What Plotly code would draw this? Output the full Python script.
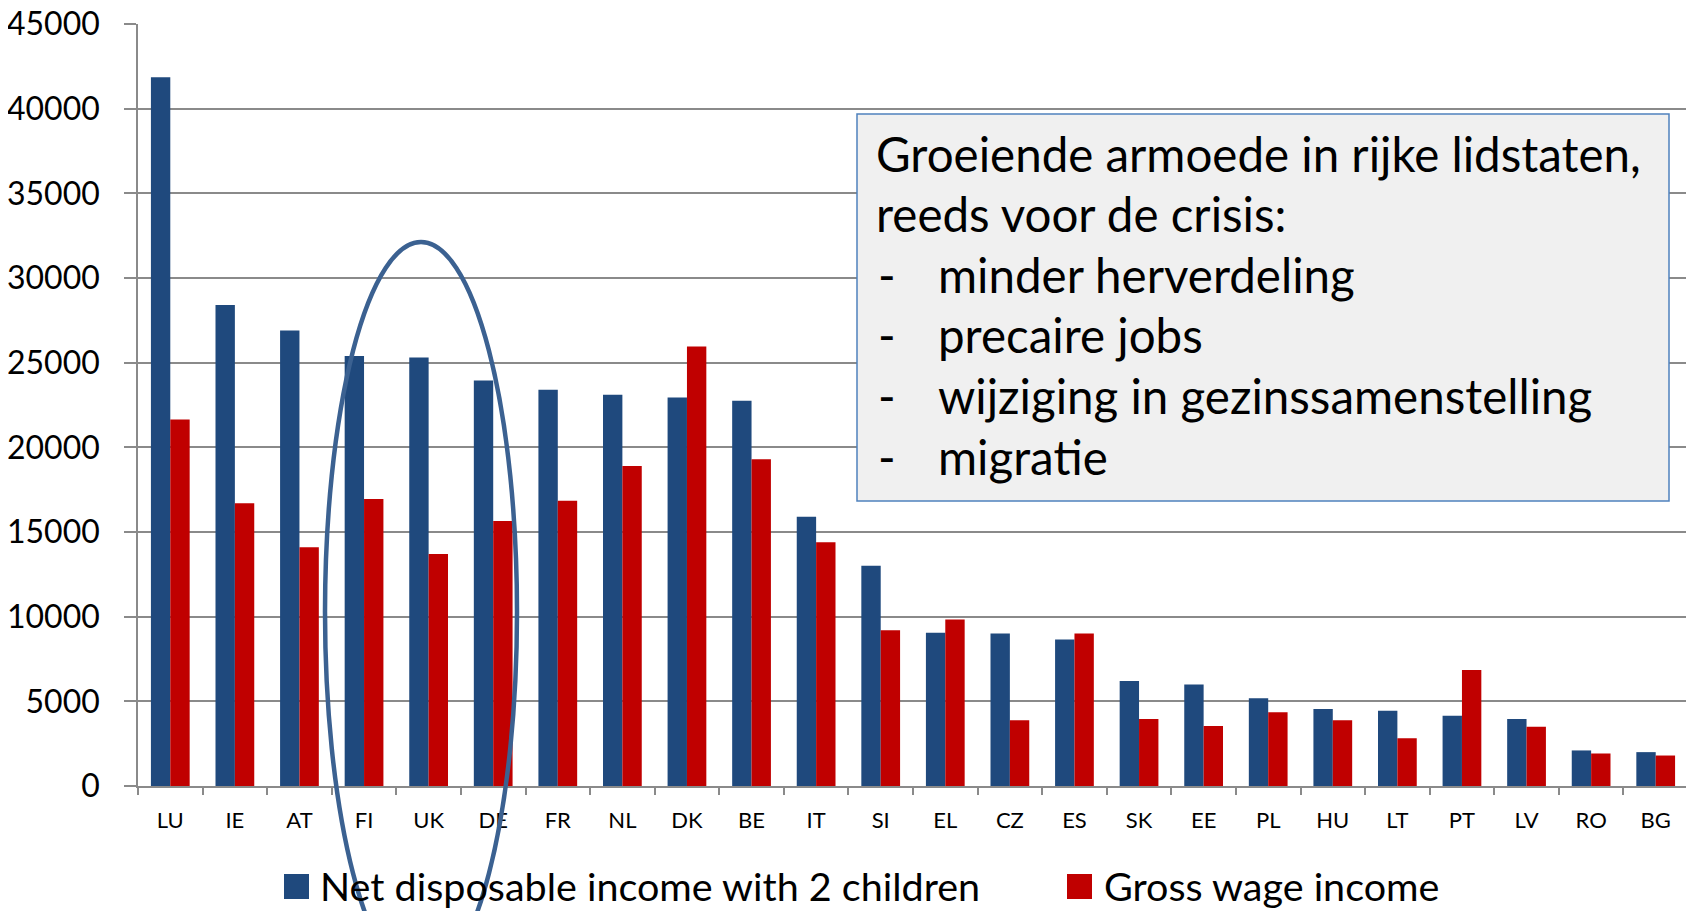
import plotly.graph_objects as go

countries = ["LU", "IE", "AT", "FI", "UK", "DE", "FR", "NL", "DK", "BE", "IT", "SI",
             "EL", "CZ", "ES", "SK", "EE", "PL", "HU", "LT", "PT", "LV", "RO", "BG"]
net_disposable = [41850, 28400, 26900, 25400, 25300, 23950, 23400, 23100, 22950, 22750, 15900, 13000,
                  9050, 9000, 8650, 6200, 6000, 5180, 4550, 4450, 4150, 3950, 2100, 2000]
gross_wage = [21650, 16700, 14100, 16950, 13700, 15650, 16850, 18900, 25950, 19300, 14400, 9200,
              9830, 3880, 9000, 3950, 3550, 4350, 3880, 2820, 6850, 3500, 1920, 1800]
y_ticks = [0, 5000, 10000, 15000, 20000, 25000, 30000, 35000, 40000, 45000]

series_names = ["Net disposable income with 2 children", "Gross wage income"]
box_title = ["Groeiende armoede in rijke lidstaten,", "reeds voor de crisis:"]
box_items = ["minder herverdeling", "precaire jobs", "wijziging in gezinssamenstelling", "migratie"]

BLUE = "#1F497D"
RED = "#C00000"
GRID = "#8A8A8A"
FONT = "Lato, sans-serif"

# page body has an 8px margin; figure is sized to fit the remaining viewport
OFF = 8
W, H = 1694 - OFF, 911 - OFF
L, R, T, B = 130, 6, 16, 125
PW, PH = W - L - R, H - T - B


def fx(p):
    """page x pixel -> paper x"""
    return (p - OFF - L) / PW


def fy(p):
    """page y pixel -> paper y"""
    return (H - B - (p - OFF)) / PH


fig = go.Figure()
fig.add_trace(go.Bar(x=countries, y=net_disposable, name=series_names[0],
                     marker=dict(color=BLUE, line=dict(width=0)), showlegend=False))
fig.add_trace(go.Bar(x=countries, y=gross_wage, name=series_names[1],
                     marker=dict(color=RED, line=dict(width=0)), showlegend=False))

shapes = []
annotations = []

# text box
shapes.append(dict(type="rect", xref="paper", yref="paper",
                   x0=fx(857), x1=fx(1669), y0=fy(501), y1=fy(114),
                   fillcolor="#F0F0F0", line=dict(color="#4F81BD", width=1.5), layer="above"))
TB = 47.5
line_centers = [153, 213, 274, 334, 395, 456]
lines = [("", box_title[0]), ("", box_title[1])] + [("-", t) for t in box_items]
for (dash, txt), yc in zip(lines, line_centers):
    if dash:
        annotations.append(dict(text=dash, xref="paper", yref="paper", x=fx(876), y=fy(yc),
                                xanchor="left", yanchor="middle", showarrow=False,
                                font=dict(family=FONT, size=TB, color="black")))
        annotations.append(dict(text=txt, xref="paper", yref="paper", x=fx(936), y=fy(yc),
                                xanchor="left", yanchor="middle", showarrow=False,
                                font=dict(family=FONT, size=TB, color="black")))
    else:
        annotations.append(dict(text=txt, xref="paper", yref="paper", x=fx(874), y=fy(yc),
                                xanchor="left", yanchor="middle", showarrow=False,
                                font=dict(family=FONT, size=TB, color="black")))

# legend (drawn manually to match large square symbols)
leg_y = 885
for (sx, tx, col, name) in [(284, 318, BLUE, series_names[0]), (1067, 1102, RED, series_names[1])]:
    shapes.append(dict(type="rect", xref="paper", yref="paper",
                       x0=fx(sx), x1=fx(sx + 25), y0=fy(leg_y + 14), y1=fy(leg_y - 11),
                       fillcolor=col, line=dict(width=0), layer="above"))
    annotations.append(dict(text=name, xref="paper", yref="paper", x=fx(tx), y=fy(leg_y),
                            xanchor="left", yanchor="middle", showarrow=False,
                            font=dict(family=FONT, size=39.5, color="black")))

# ellipse highlighting FI, UK, DE
cx, cy, rx, ry = 421, 612, 96, 370
shapes.append(dict(type="circle", xref="paper", yref="paper",
                   x0=fx(cx - rx), x1=fx(cx + rx), y0=fy(cy + ry), y1=fy(cy - ry),
                   line=dict(color="#3B6191", width=4.5), layer="above"))

fig.update_layout(
    width=W, height=H,
    margin=dict(l=L, r=R, t=T, b=B, pad=0, autoexpand=False),
    paper_bgcolor="white", plot_bgcolor="white",
    barmode="group", bargap=0.4, bargroupgap=0,
    font=dict(family=FONT, color="black"),
    shapes=shapes, annotations=annotations,
    showlegend=False,
)
fig.update_yaxes(range=[0, 45000], tickvals=y_ticks, ticktext=[str(v) for v in y_ticks],
                 automargin=False,
                 showgrid=True, gridcolor=GRID, gridwidth=1.6,
                 ticks="outside", ticklen=12, tickcolor=GRID, tickwidth=1.6,
                 showline=True, linecolor=GRID, linewidth=1.6, zeroline=False,
                 ticklabeloverflow="allow",
                 tickfont=dict(family=FONT, size=32, color="black"), ticklabelstandoff=18)
fig.update_xaxes(tickson="boundaries", ticks="outside", ticklen=7, tickcolor=GRID, tickwidth=1.6,
                 automargin=False,
                 showline=True, linecolor=GRID, linewidth=2, showgrid=False,
                 tickfont=dict(family=FONT, size=22, color="black"), ticklabelstandoff=14)

fig.write_html("out.html")
